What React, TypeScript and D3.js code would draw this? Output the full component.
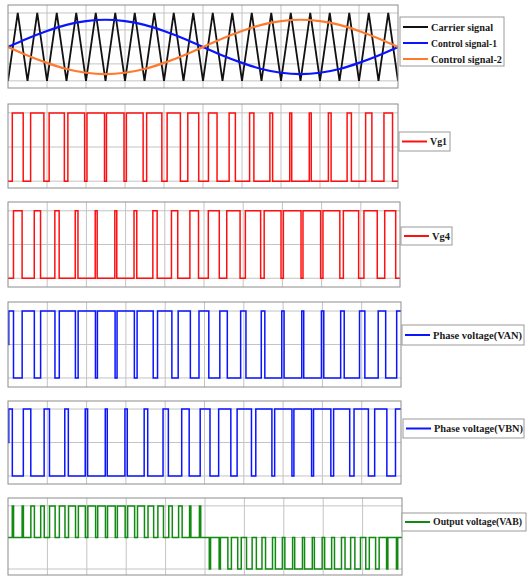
import React from 'react';
import * as d3 from 'd3';

// time is counted in carrier periods, 20 periods across the window
const periods = 20;
const xGrid = [2, 4, 6, 8, 10, 12, 14, 16, 18];

// carrier vertices, one every half period (starts on a trough)
const carrierLevels = [
  -1, 1, -1, 1, -1, 1, -1, 1, -1, 1, -1, 1, -1, 1, -1, 1, -1, 1, -1, 1, -1,
  1, -1, 1, -1, 1, -1, 1, -1, 1, -1, 1, -1, 1, -1, 1, -1, 1, -1, 1, -1,
];

// control signals, sampled once per carrier period
const control1 = [0, 0.25, 0.47, 0.65, 0.76, 0.8, 0.76, 0.65, 0.47, 0.25, 0, -0.25, -0.47, -0.65, -0.76, -0.8, -0.76, -0.65, -0.47, -0.25, 0];
const control2 = [0, -0.25, -0.47, -0.65, -0.76, -0.8, -0.76, -0.65, -0.47, -0.25, 0, 0.25, 0.47, 0.65, 0.76, 0.8, 0.76, 0.65, 0.47, 0.25, 0];

// share of each carrier period the signal is high
const vg1Duty = [0.56, 0.68, 0.78, 0.86, 0.9, 0.9, 0.86, 0.78, 0.68, 0.56, 0.44, 0.32, 0.22, 0.14, 0.1, 0.1, 0.14, 0.22, 0.32, 0.44];
const vg4Duty = [0.44, 0.32, 0.22, 0.14, 0.1, 0.1, 0.14, 0.22, 0.32, 0.44, 0.56, 0.68, 0.78, 0.86, 0.9, 0.9, 0.86, 0.78, 0.68, 0.56];
const vanDuty = [0.56, 0.68, 0.78, 0.86, 0.9, 0.9, 0.86, 0.78, 0.68, 0.56, 0.44, 0.32, 0.22, 0.14, 0.1, 0.1, 0.14, 0.22, 0.32, 0.44];
const vbnDuty = [0.44, 0.32, 0.22, 0.14, 0.1, 0.1, 0.14, 0.22, 0.32, 0.44, 0.56, 0.68, 0.78, 0.86, 0.9, 0.9, 0.86, 0.78, 0.68, 0.56];

// output voltage: pulse width (share of half period) and polarity per carrier period
const vabWidth = [0.13, 0.36, 0.57, 0.71, 0.79, 0.79, 0.71, 0.57, 0.36, 0.13, 0.13, 0.36, 0.57, 0.71, 0.79, 0.79, 0.71, 0.57, 0.36, 0.13];
const vabSign = [1, 1, 1, 1, 1, 1, 1, 1, 1, 1, -1, -1, -1, -1, -1, -1, -1, -1, -1, -1];

const topLabels = ['Carrier signal', 'Control signal-1', 'Control signal-2'];
const topColors = ['#111111', '#0a14ff', '#ff7a2e'];

type Pt = [number, number];

// high pulse centred on the carrier peak
function centred(duty: number[], lo: number, hi: number): Pt[] {
  const pts: Pt[] = [[0, lo]];
  duty.forEach((d, k) => {
    const a = k + 0.5 - d / 2, b = k + 0.5 + d / 2;
    pts.push([a, lo], [a, hi], [b, hi], [b, lo]);
  });
  pts.push([duty.length, lo]);
  return pts;
}

// high around the carrier troughs (period edges)
function edged(duty: number[], lo: number, hi: number, start: number): Pt[] {
  const pts: Pt[] = [[0, start], [0.04, start], [0.04, hi]];
  duty.forEach((d, k) => {
    const a = k + d / 2, b = k + 1 - d / 2;
    pts.push([a, hi], [a, lo], [b, lo], [b, hi]);
  });
  pts.push([duty.length, hi]);
  return pts;
}

function unipolar(width: number[], sign: number[]): Pt[] {
  const pts: Pt[] = [[0, 0]];
  width.forEach((w, k) => {
    [0.25, 0.75].forEach(c => {
      const a = k + c - w / 4, b = k + c + w / 4;
      pts.push([a, 0], [a, sign[k]], [b, sign[k]], [b, 0]);
    });
  });
  pts.push([width.length, 0]);
  return pts;
}

interface LegendRow { label: string; color: string; len: number; size?: number }
interface Panel {
  top: number; bottom: number; right: number;
  domain: [number, number]; yTicks: number[];
  series: { pts: Pt[]; color: string; width: number; curve?: boolean }[];
  legend: { x: number; y: number; w: number; h: number; rows: LegendRow[] };
}

const carrierPts: Pt[] = carrierLevels.map((v, i) => [i / 2, v]);
const c1Pts: Pt[] = control1.map((v, i) => [i, v]);
const c2Pts: Pt[] = control2.map((v, i) => [i, v]);

const panels: Panel[] = [
  {
    top: 5, bottom: 88, right: 398, domain: [-1.21, 1.235], yTicks: [-1, -0.5, 0, 0.5, 1],
    series: [
      { pts: carrierPts, color: topColors[0], width: 1.8 },
      { pts: c1Pts, color: topColors[1], width: 2.2, curve: true },
      { pts: c2Pts, color: topColors[2], width: 2.2, curve: true },
    ],
    legend: { x: 400, y: 17, w: 104, h: 49, rows: topLabels.map((l, i) => ({ label: l, color: topColors[i], len: [62, 66, 71][i] })) },
  },
  {
    top: 104, bottom: 188, right: 398, domain: [-0.1, 1.13], yTicks: [0, 0.5, 1],
    series: [{ pts: centred(vg1Duty, 0, 1), color: '#ff1010', width: 1.5 }],
    legend: { x: 399, y: 132, w: 51, h: 19, rows: [{ label: 'Vg1', color: '#ff1010', len: 17 }] },
  },
  {
    top: 202, bottom: 287, right: 400, domain: [-0.13, 1.13], yTicks: [0, 0.5, 1],
    series: [{ pts: centred(vg4Duty, 0, 1), color: '#ff1010', width: 1.5 }],
    legend: { x: 401, y: 227, w: 51, h: 18, rows: [{ label: 'Vg4', color: '#ff1010', len: 18 }] },
  },
  {
    top: 302, bottom: 387, right: 401, domain: [-1.27, 1.27], yTicks: [-1, 0, 1],
    series: [{ pts: edged(vanDuty, -1, 1, 0), color: '#0a14ff', width: 1.5 }],
    legend: { x: 402, y: 325, w: 122, h: 20, rows: [{ label: 'Phase voltage(VAN)', color: '#0a14ff', len: 89 }] },
  },
  {
    top: 401, bottom: 484, right: 401, domain: [-1.24, 1.24], yTicks: [-1, 0, 1],
    series: [{ pts: edged(vbnDuty, -1, 1, 0), color: '#0a14ff', width: 1.5 }],
    legend: { x: 403, y: 419, w: 121, h: 19, rows: [{ label: 'Phase voltage(VBN)', color: '#0a14ff', len: 89 }] },
  },
  {
    top: 498, bottom: 575, right: 402, domain: [-1.19, 1.25], yTicks: [-1, 0, 1],
    series: [{ pts: unipolar(vabWidth, vabSign), color: '#118a11', width: 1.5 }],
    legend: { x: 402, y: 513, w: 124, h: 18, rows: [{ label: 'Output voltage(VAB)', color: '#118a11', len: 89, size: 9.5 }] },
  },
];

const left = 8;
const font = '"Liberation Serif", "Times New Roman", serif';

const PanelView: React.FC<{ p: Panel; idx: number }> = ({ p, idx }) => {
  const x = d3.scaleLinear().domain([0, periods]).range([left, p.right]);
  const y = d3.scaleLinear().domain(p.domain).range([p.bottom, p.top]);
  const clipId = `clip-${idx}`;
  const rowH = p.legend.rows.length > 1 ? 16 : p.legend.h;
  return (
    <g>
      <defs>
        <clipPath id={clipId}>
          <rect x={left} y={p.top} width={p.right - left} height={p.bottom - p.top} />
        </clipPath>
      </defs>
      <rect x={left} y={p.top} width={p.right - left} height={p.bottom - p.top} fill="#fff" />
      {xGrid.map(t => (
        <line key={'x' + t} x1={x(t)} x2={x(t)} y1={p.top} y2={p.bottom} stroke="#c4c4c4" strokeWidth={1} />
      ))}
      {p.yTicks.map(t => (
        <line key={'y' + t} x1={left} x2={p.right} y1={y(t)} y2={y(t)} stroke="#c4c4c4" strokeWidth={1} />
      ))}
      <g clipPath={`url(#${clipId})`}>
        {p.series.map((s, i) => {
          const line = d3.line<Pt>().x(d => x(d[0])).y(d => y(d[1]));
          if (s.curve) line.curve(d3.curveNatural);
          return <path key={i} d={line(s.pts) || ''} fill="none" stroke={s.color} strokeWidth={s.width} strokeLinejoin="miter" />;
        })}
      </g>
      <rect x={left} y={p.top} width={p.right - left} height={p.bottom - p.top} fill="none" stroke="#8c8c8c" strokeWidth={1} />
      <rect x={p.legend.x} y={p.legend.y} width={p.legend.w} height={p.legend.h} fill="#fff" stroke="#9a9a9a" strokeWidth={1} />
      {p.legend.rows.map((r, i) => {
        const cy = p.legend.rows.length > 1 ? p.legend.y + 10 + i * rowH : p.legend.y + p.legend.h / 2;
        const fs = r.size ?? 11;
        return (
          <g key={r.label}>
            <line x1={p.legend.x + 3} x2={p.legend.x + 28} y1={cy} y2={cy} stroke={r.color} strokeWidth={2} />
            <text x={p.legend.x + 31} y={cy + fs * 0.35} fontFamily={font} fontWeight="bold" fontSize={fs} fill="#1a1a1a"
              textLength={r.len} lengthAdjust="spacingAndGlyphs">{r.label}</text>
          </g>
        );
      })}
    </g>
  );
};

export default function App() {
  return (
    <svg width={528} height={576} style={{ position: 'absolute', left: 0, top: 0, background: '#fff' }}>
      {panels.map((p, i) => <PanelView key={i} p={p} idx={i} />)}
    </svg>
  );
}
